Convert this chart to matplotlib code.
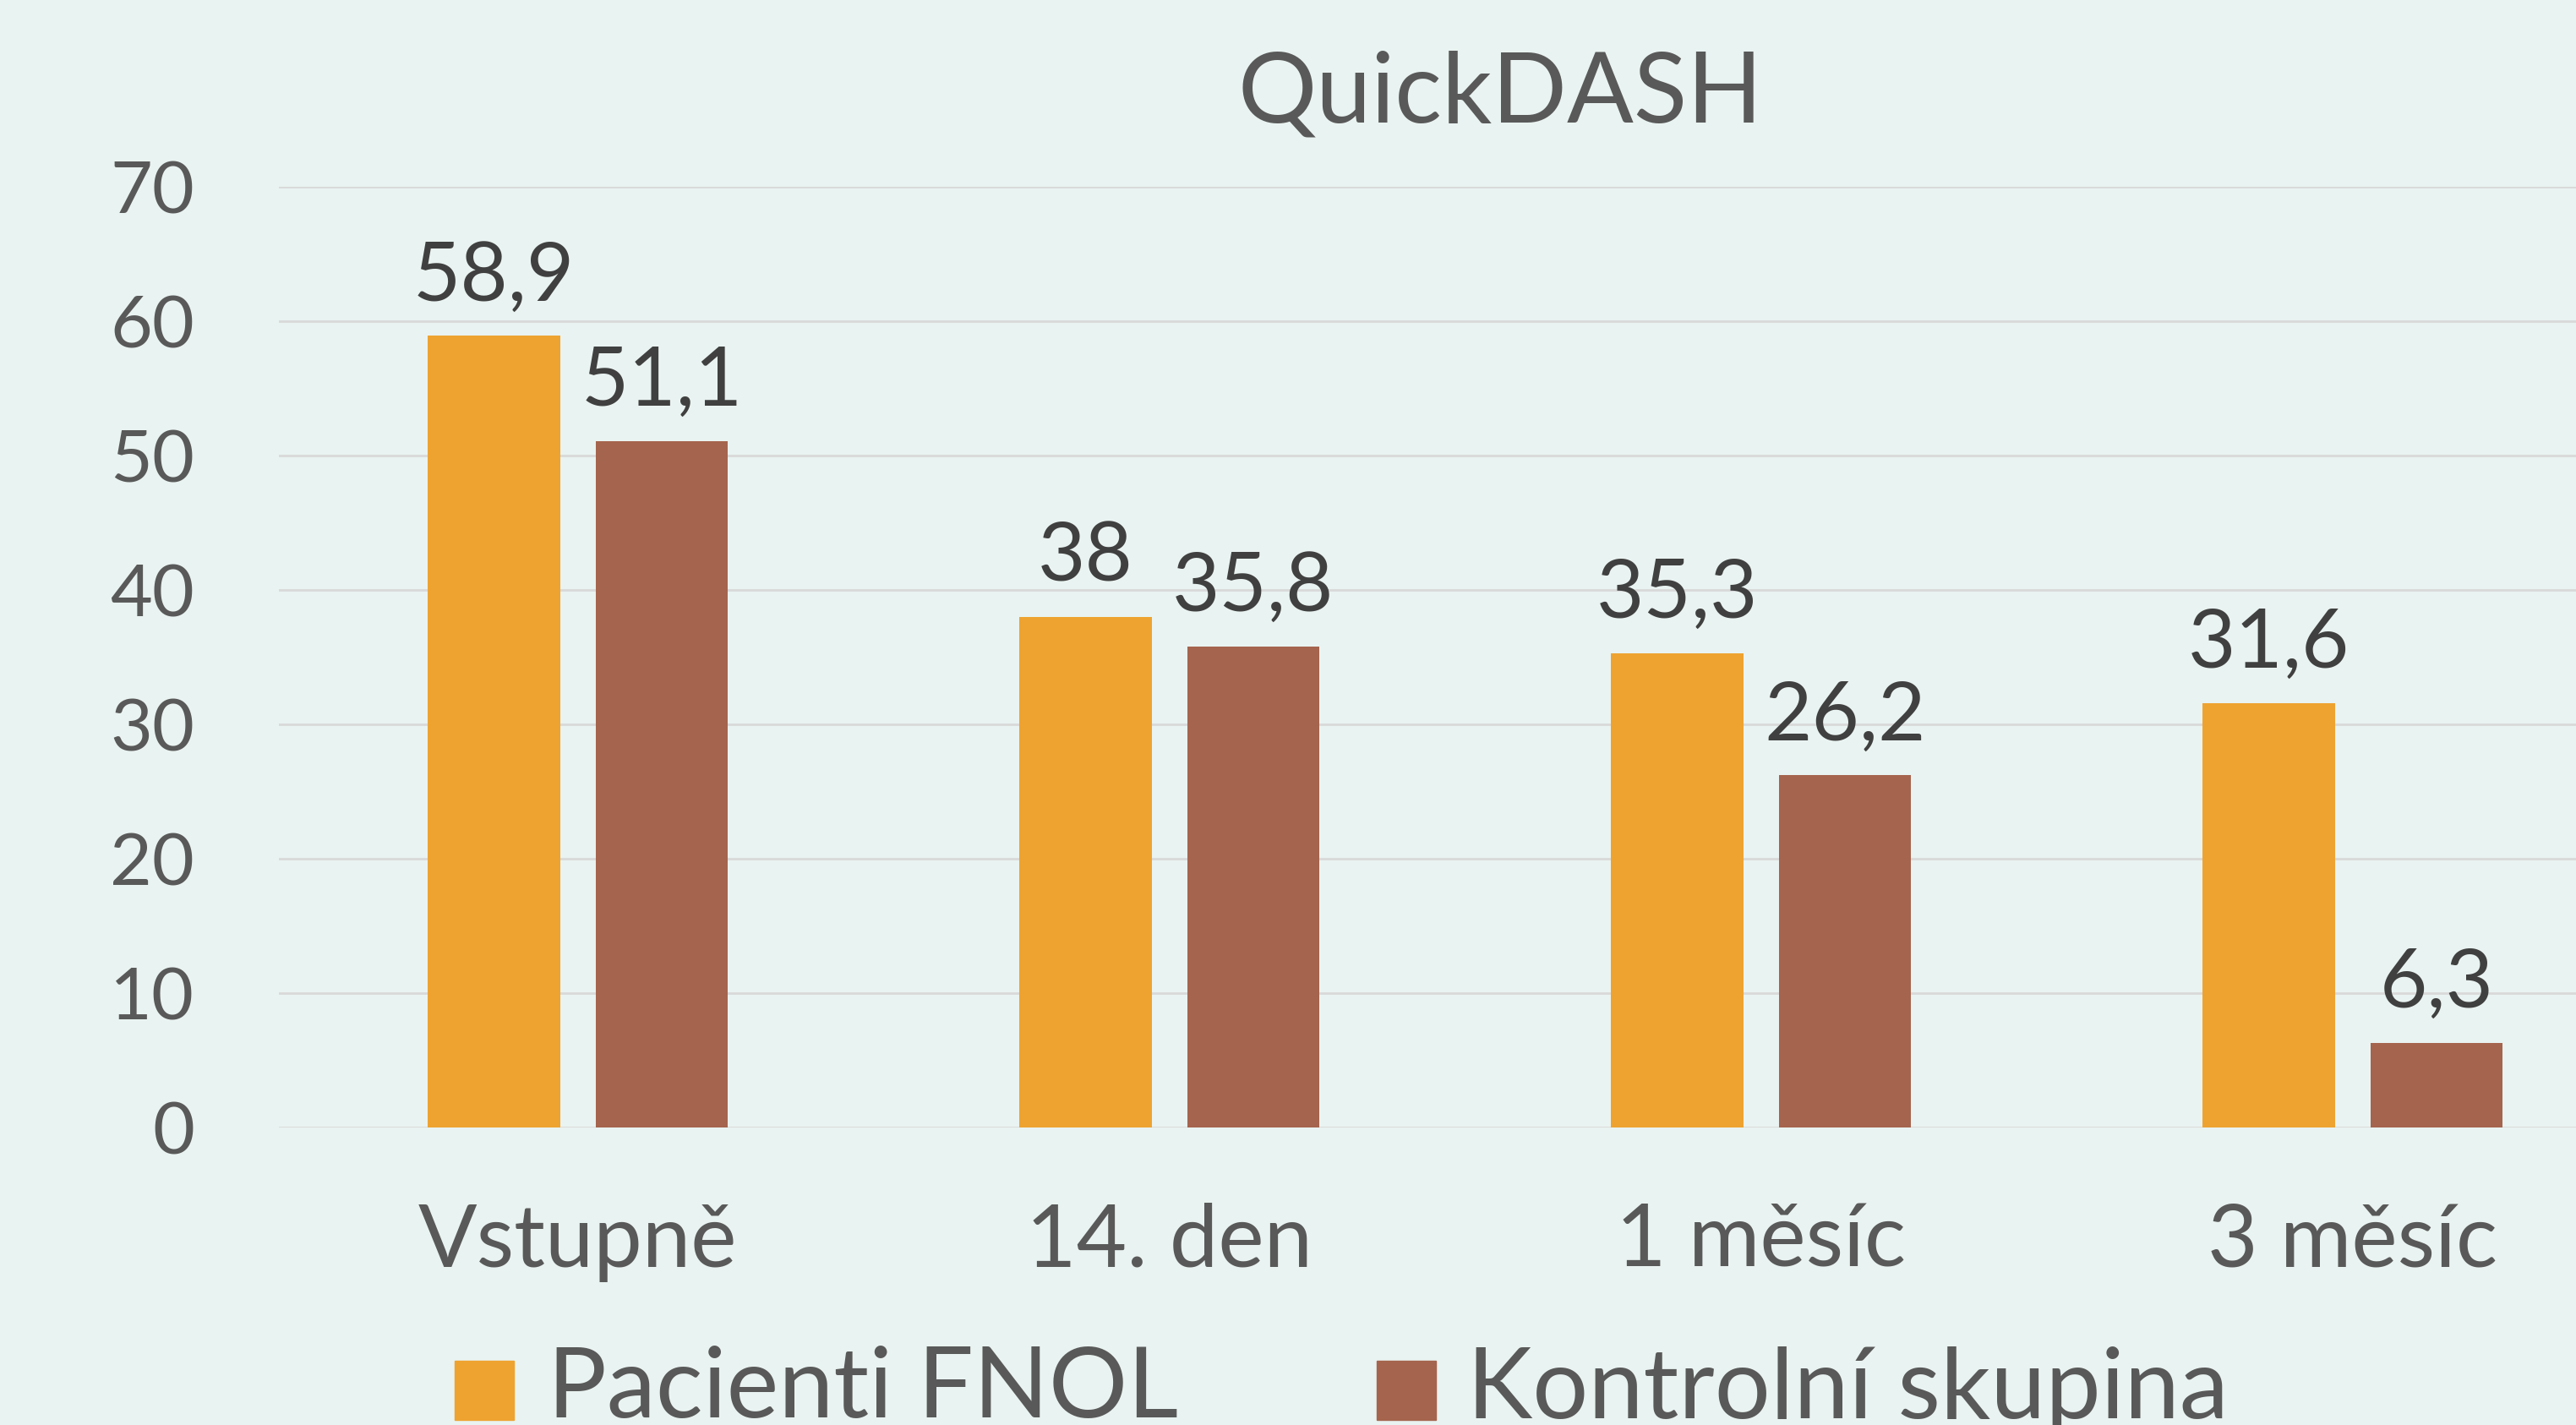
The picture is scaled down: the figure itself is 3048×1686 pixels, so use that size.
import matplotlib
matplotlib.use("Agg")
import matplotlib.pyplot as plt
from matplotlib.patches import Rectangle
import numpy as np

categories = ["Vstupně", "14. den", "1 měsíc", "3 měsíc"]
fnol = [58.9, 38, 35.3, 31.6]
kontrol = [51.1, 35.8, 26.2, 6.3]
fnol_labels = ["58,9", "38", "35,3", "31,6"]
kontrol_labels = ["51,1", "35,8", "26,2", "6,3"]
series_names = ["Pacienti FNOL", "Kontrolní skupina"]

bg = "#E9F3F1"
orange = "#EEA330"
brown = "#A5644E"
grid_c = "#D9D9D9"
tick_c = "#595959"
label_c = "#404040"

plt.rcParams['font.family'] = ['Lato', 'DejaVu Sans']

fig = plt.figure(figsize=(30.48, 16.86), dpi=100, facecolor=bg)
ax = fig.add_axes([330 / 3048, 1 - 1334 / 1686, 1 - 330 / 3048, (1334 - 221) / 1686])
ax.set_facecolor(bg)

x = np.arange(len(categories))
w = 0.224
off = 0.142
b1 = ax.bar(x - off, fnol, w, color=orange, zorder=3)
b2 = ax.bar(x + off, kontrol, w, color=brown, zorder=3)
ax.bar_label(b1, labels=fnol_labels, padding=18, fontsize=70, color=label_c)
ax.bar_label(b2, labels=kontrol_labels, padding=18, fontsize=70, color=label_c)

ax.set_ylim(0, 70)
ax.set_xlim(-0.505, -0.505 + 2718 / 700)
ax.set_yticks(range(0, 71, 10))
ax.yaxis.grid(True, color=grid_c, linewidth=2, zorder=0)
ax.set_axisbelow(True)
for s in ax.spines.values():
    s.set_visible(False)
ax.set_xticks(x)
ax.set_xticklabels(categories)
ax.tick_params(axis='y', length=0, pad=72, labelsize=62, labelcolor=tick_c)
ax.tick_params(axis='x', length=0, pad=64, labelsize=74, labelcolor=tick_c)

fig.text(1775 / 3048, 1 - 112 / 1686, "QuickDASH", ha='center', va='center',
         fontsize=84, color=tick_c)

# legend, drawn by hand
ly = 1 - 1645 / 1686
for (sx, tx), c, name in zip([(538, 648), (1629, 1736)], [orange, brown], series_names):
    fig.add_artist(Rectangle((sx / 3048, ly - 35 / 1686), 70 / 3048, 70 / 1686,
                             transform=fig.transFigure, color=c))
    fig.text(tx / 3048, ly, name, ha='left', va='center', fontsize=84, color=tick_c)

fig.savefig("out.png", dpi=100, facecolor=bg)
